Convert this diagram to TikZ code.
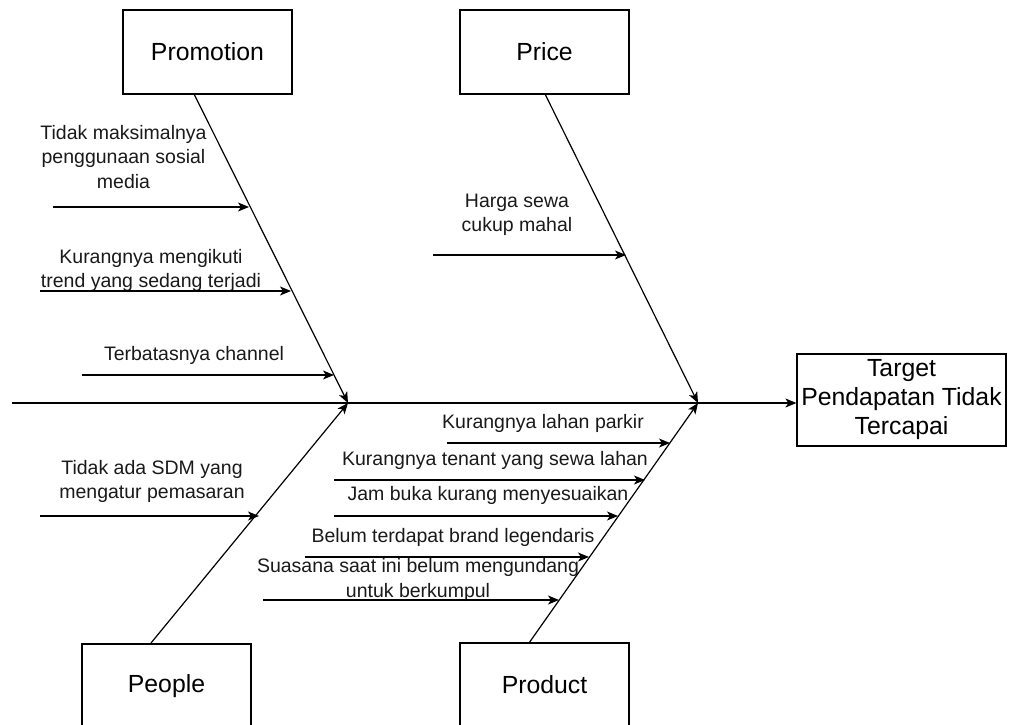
\documentclass[tikz,border=0pt]{standalone}
\usepackage{fontspec}
\setmainfont{Liberation Sans}
\usetikzlibrary{arrows.meta}
\begin{document}
\begin{tikzpicture}[x=1pt,y=-1pt,
  box/.style={draw, line width=1.2pt, minimum width=169pt, minimum height=84pt, inner sep=0pt, font=\fontsize{24.8}{29}\selectfont},
  lbl/.style={align=center, inner sep=0pt, font=\fontsize{19.5}{24.5}\selectfont, text=black!90},
  arr/.style={line width=1.2pt, -{Stealth[length=11pt,width=9pt,inset=3pt]}}]
\useasboundingbox (0,0) rectangle (1010,725);
% category boxes
\node[box] (promo) at (207.5,52) {Promotion};
\node[box] (price) at (544.5,52) {Price};
\begin{scope}
\clip (0,0) rectangle (1010,725);
\node[box] (people) at (166.5,686) {People};
\node[box] (product) at (544.5,685) {Product};
\end{scope}
\node[box, minimum width=209pt, minimum height=92pt, align=center] (target) at (901.5,400) {Target\\Pendapatan Tidak\\Tercapai};
% spine
\coordinate (s0) at (12,403);
\coordinate (h1) at (348,403);
\coordinate (h2) at (698,403);
\draw[arr] (s0) -- (s0 -| target.west);
% bones
\coordinate (p0) at (194,94);
\coordinate (r0) at (545,94);
\coordinate (q0) at (151,643);
\coordinate (d0) at (529,643);
\draw[arr] (p0) -- (h1);
\draw[arr] (q0) -- (h1);
\draw[arr] (r0) -- (h2);
\draw[arr] (d0) -- (h2);
% Promotion causes
\node[lbl] (t1) at (123.5,157) {Tidak maksimalnya\\penggunaan sosial\\media};
\coordinate (c1s) at (53,207); \coordinate (c1e) at (249,207);
\draw[arr] (c1s) -- (c1e);
\node[lbl] (t2) at (151,270.5) {Kurangnya mengikuti\\trend yang sedang terjadi};
\coordinate (c2s) at (40,291); \coordinate (c2e) at (291,291);
\draw[arr] (c2s) -- (c2e);
\node[lbl] (t3) at (194,355) {Terbatasnya channel};
\coordinate (c3s) at (82,375); \coordinate (c3e) at (334,375);
\draw[arr] (c3s) -- (c3e);
% Price cause
\node[lbl] (t4) at (517,215) {Harga sewa\\cukup mahal};
\coordinate (c4s) at (433,255); \coordinate (c4e) at (626,255);
\draw[arr] (c4s) -- (c4e);
% People cause
\node[lbl] (t5) at (152,481.5) {Tidak ada SDM yang\\mengatur pemasaran};
\coordinate (c5s) at (40,516); \coordinate (c5e) at (259,516);
\draw[arr] (c5s) -- (c5e);
% Product causes
\node[lbl] (t6) at (543,423) {Kurangnya lahan parkir};
\coordinate (c6s) at (447,443); \coordinate (c6e) at (670,443);
\draw[arr] (c6s) -- (c6e);
\node[lbl] (t7) at (495,460) {Kurangnya tenant yang sewa lahan};
\coordinate (c7s) at (334,480); \coordinate (c7e) at (645,480);
\draw[arr] (c7s) -- (c7e);
\node[lbl] (t8) at (488,495) {Jam buka kurang menyesuaikan};
\coordinate (c8s) at (334,516); \coordinate (c8e) at (618,516);
\draw[arr] (c8s) -- (c8e);
\node[lbl] (t9) at (453,537) {Belum terdapat brand legendaris};
\coordinate (c9s) at (305,557); \coordinate (c9e) at (589,557);
\draw[arr] (c9s) -- (c9e);
\node[lbl] (t10) at (418,580) {Suasana saat ini belum mengundang\\untuk berkumpul};
\coordinate (c10s) at (263,600); \coordinate (c10e) at (559,600);
\draw[arr] (c10s) -- (c10e);
\end{tikzpicture}
\end{document}
